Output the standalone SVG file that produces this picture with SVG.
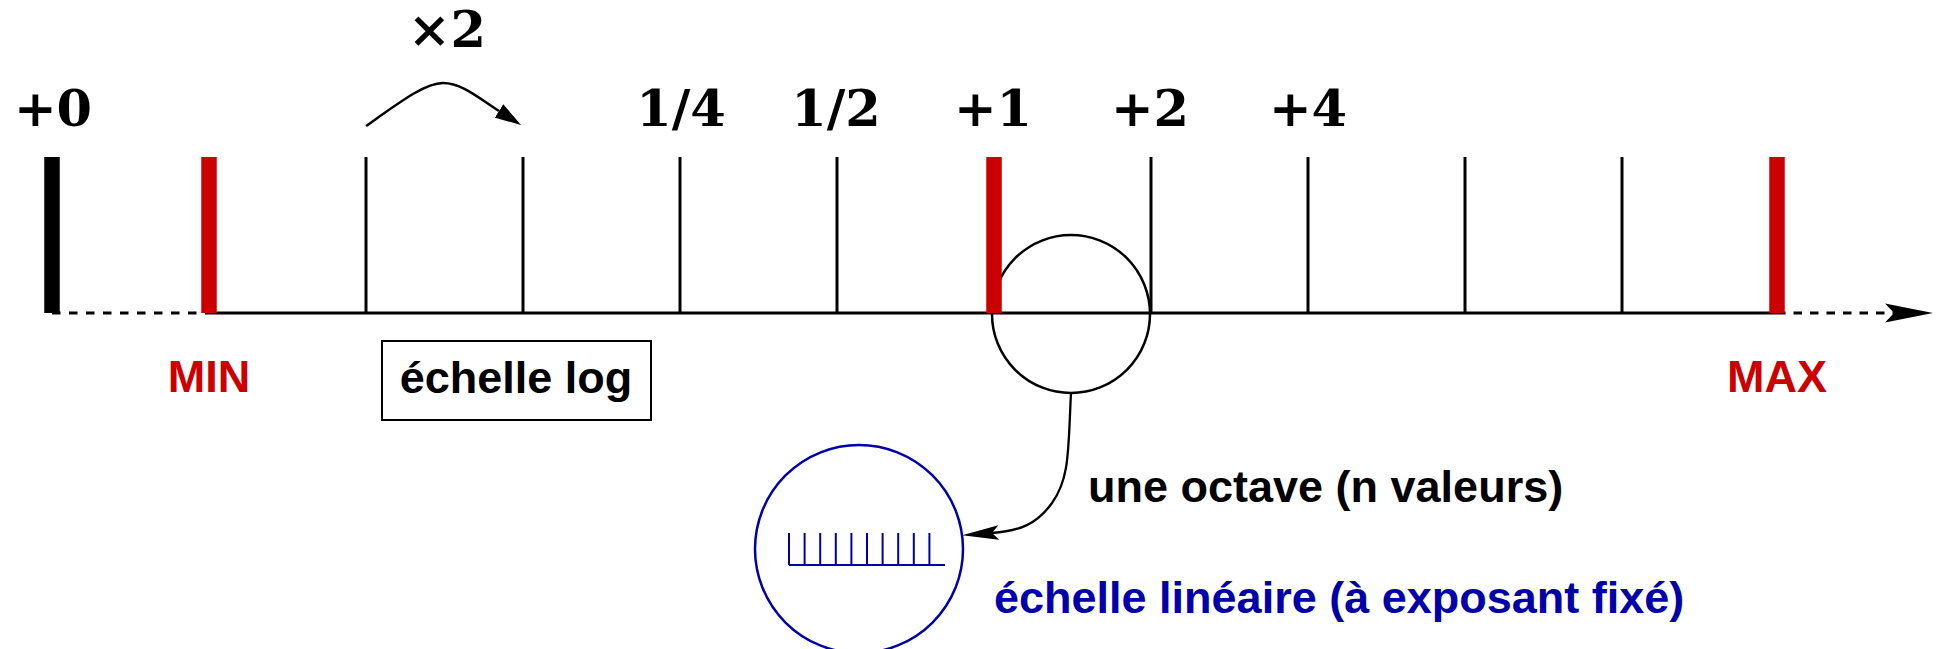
<svg xmlns="http://www.w3.org/2000/svg" width="1939" height="649" viewBox="0 0 1939 649">
<style>
.math{font-family:"DejaVu Serif","Liberation Serif",serif;font-weight:bold;font-size:51px;fill:#000;text-anchor:middle}
.lab{font-family:"Liberation Sans",Arial,sans-serif;font-weight:bold;font-size:45px}
.red{fill:#cc0000}
.blue{fill:#0000aa}
.tick{stroke:#000;stroke-width:3}
.bar{stroke:#000;stroke-width:15.5}
.redbar{stroke:#cc0000;stroke-width:15.5}
.ln{fill:none;stroke:#000}
.btick{stroke:#0000aa;stroke-width:2;fill:none}
</style>
<defs>
<marker id="stealth" viewBox="-3 -3.2 16 6.4" refX="0" refY="0" markerWidth="16" markerHeight="6.4" orient="auto" markerUnits="strokeWidth">
<path d="M13,0 L-3,-3.2 L0,0 L-3,3.2 Z" fill="#000"/>
</marker>
<marker id="latex" viewBox="0 -8 26 16" refX="0" refY="0" markerWidth="26" markerHeight="16" orient="auto" markerUnits="userSpaceOnUse">
<path d="M0,-8 L26,0 L0,8 Z" fill="#000"/>
</marker>
</defs>
<rect width="1939" height="649" fill="#fff"/>

<g id="connectors">
<line class="ln" x1="209" y1="313" x2="1777" y2="313" stroke-width="3"/>
<line class="ln" x1="52" y1="313" x2="209" y2="313" stroke-width="3" stroke-dasharray="8.5 8.5"/>
<line class="ln" x1="1777" y1="313" x2="1894" y2="313" stroke-width="3" stroke-dasharray="8.5 8" marker-end="url(#stealth)"/>
<path id="double-arrow" class="ln" stroke-width="2.5" d="M366,126 C400,102 425,83 443,83 C462,83 480,99 499,111" marker-end="url(#latex)"/>
<path id="octave-arrow" class="ln" stroke-width="2.3" d="M1071,393 C1068,450 1070,478 1052,503 C1037,524 1020,531 992,533" marker-end="url(#stealth)"/>
</g>

<g id="octave-zoom">
<circle cx="1071" cy="314" r="79" fill="none" stroke="#000" stroke-width="2.5"/>
</g>

<g id="ticks">
<line class="bar" x1="52" y1="157" x2="52" y2="313"/>
<line class="redbar" x1="209" y1="157" x2="209" y2="313"/>
<line class="tick" x1="366" y1="157" x2="366" y2="313"/>
<line class="tick" x1="523" y1="157" x2="523" y2="313"/>
<line class="tick" x1="680" y1="157" x2="680" y2="313"/>
<line class="tick" x1="837" y1="157" x2="837" y2="313"/>
<line class="redbar" x1="994" y1="157" x2="994" y2="313"/>
<line class="tick" x1="1151" y1="157" x2="1151" y2="313"/>
<line class="tick" x1="1308" y1="157" x2="1308" y2="313"/>
<line class="tick" x1="1465" y1="157" x2="1465" y2="313"/>
<line class="tick" x1="1622" y1="157" x2="1622" y2="313"/>
<line class="redbar" x1="1777" y1="157" x2="1777" y2="313"/>
</g>

<g id="tick-labels">
<text class="math" x="53" y="126">+0</text>
<text class="math" x="447" y="47">×2</text>
<text class="math" x="681" y="126">1/4</text>
<text class="math" x="836" y="126">1/2</text>
<text class="math" x="993" y="126">+1</text>
<text class="math" x="1150" y="126">+2</text>
<text class="math" x="1308" y="126">+4</text>
</g>

<g id="min-label"><text class="lab red" x="209" y="392" text-anchor="middle">MIN</text></g>
<g id="max-label"><text class="lab red" x="1777" y="392" text-anchor="middle">MAX</text></g>

<g id="log-scale-box">
<rect x="382" y="341" width="269" height="79" fill="none" stroke="#000" stroke-width="2"/>
<text class="lab" x="516" y="393" text-anchor="middle">échelle log</text>
</g>

<g id="octave-label"><text class="lab" x="1088" y="502">une octave (n valeurs)</text></g>

<g id="linear-scale">
<circle cx="859" cy="549" r="104" fill="none" stroke="#0000aa" stroke-width="2.5"/>
<path class="btick" d="M789,565 H945 M789,533 V565 M804.6,533 V565 M820.2,533 V565 M835.8,533 V565 M851.4,533 V565 M867,533 V565 M882.6,533 V565 M898.2,533 V565 M913.8,533 V565 M929.4,533 V565"/>
</g>

<g id="linear-label"><text class="lab blue" x="994" y="613">échelle linéaire (à exposant fixé)</text></g>
</svg>
